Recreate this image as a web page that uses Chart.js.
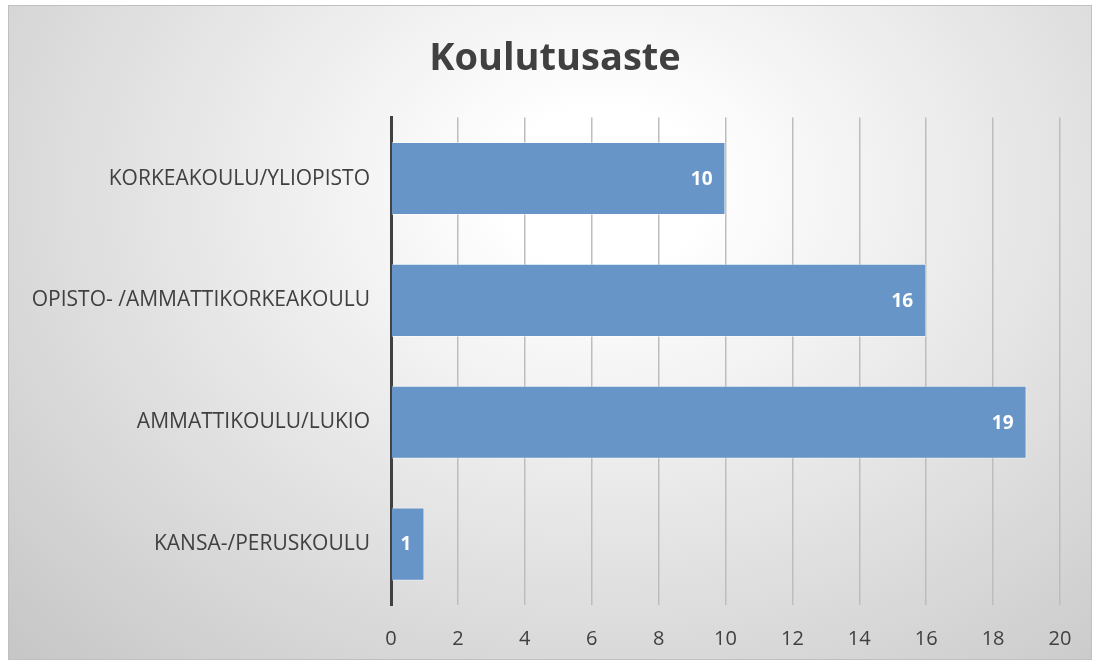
<!DOCTYPE html>
<html>
<head>
<meta charset="utf-8">
<script src="https://cdn.jsdelivr.net/npm/chart.js@4/dist/chart.umd.min.js"></script>
<style>
    body { margin: 0; background: #fff; }
    #wrap { position: relative; width: 1095px; height: 665px; }
    #bg {
        position: absolute; left: 8px; top: 5px; width: 1082px; height: 653px;
        border: 1px solid #c0c0c0;
        background: radial-gradient(ellipse farthest-corner at 55% 28%, #ffffff 12%, #c6c6c6 100%);
    }
    #chart { position: absolute; left: 0; top: 0; }
</style>
</head>
<body>
<div id="wrap">
    <div id="bg"></div>
    <canvas id="chart" width="1095" height="665"></canvas>
</div>
<script>
const categories = ['KORKEAKOULU/YLIOPISTO', 'OPISTO- /AMMATTIKORKEAKOULU', 'AMMATTIKOULU/LUKIO', 'KANSA-/PERUSKOULU'];
const counts = [10, 16, 19, 1];
const xTicks = [0, 2, 4, 6, 8, 10, 12, 14, 16, 18, 20];

const fontFamily = '"Open Sans", "Liberation Sans", sans-serif';
const textColor = '#404040';

// white value at the end of each bar
const barLabels = {
    id: 'barLabels',
    afterDatasetsDraw(chart) {
        const ctx = chart.ctx;
        const meta = chart.getDatasetMeta(0);
        ctx.save();
        ctx.fillStyle = '#ffffff';
        ctx.font = 'bold 19px ' + fontFamily;
        ctx.textAlign = 'right';
        ctx.textBaseline = 'middle';
        meta.data.forEach(function (bar, i) {
            ctx.fillText(String(counts[i]), bar.x - 13, bar.y + 1);
        });
        ctx.restore();
    }
};

new Chart(document.getElementById('chart').getContext('2d'), {
    type: 'bar',
    data: {
        labels: categories,
        datasets: [{
            data: counts,
            backgroundColor: '#6795c7',
            borderColor: 'rgba(255,255,255,0.45)',
            borderWidth: 1,
            categoryPercentage: 0.6,
            barPercentage: 1
        }]
    },
    options: {
        indexAxis: 'y',
        responsive: false,
        animation: false,
        layout: { padding: { left: 15, right: 0, top: 0, bottom: 0 } },
        plugins: {
            legend: { display: false },
            tooltip: { enabled: false },
            title: {
                display: true,
                text: 'Koulutusaste',
                color: textColor,
                font: { family: fontFamily, size: 38, weight: 'bold', lineHeight: 1.2 },
                padding: { top: 36, bottom: 36 }
            }
        },
        scales: {
            x: {
                min: 0,
                max: 20,
                afterBuildTicks: function (scale) {
                    scale.ticks = xTicks.map(function (v) { return { value: v }; });
                },
                afterFit: function (scale) { scale.height = 60; },
                grid: { color: '#bdbdbd', lineWidth: 1.5, drawTicks: false },
                border: { display: false },
                ticks: {
                    color: textColor,
                    padding: 22,
                    font: { family: fontFamily, size: 20 }
                }
            },
            y: {
                afterFit: function (scale) { scale.width = 376; },
                grid: { display: false, drawTicks: false },
                border: { display: true, color: '#404040', width: 3 },
                ticks: {
                    color: textColor,
                    padding: 21,
                    font: { family: fontFamily, size: 21 }
                }
            },
            // empty right axis only to leave the margin right of the plot
            yRight: {
                position: 'right',
                afterFit: function (scale) { scale.width = 35; },
                grid: { display: false, drawTicks: false },
                border: { display: false },
                ticks: { display: false }
            }
        }
    },
    plugins: [barLabels]
});
</script>
</body>
</html>
